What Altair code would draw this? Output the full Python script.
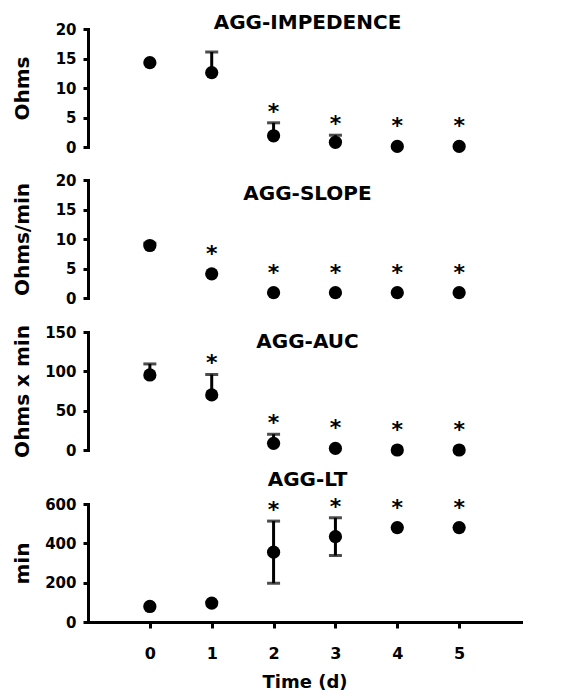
import altair as alt
import pandas as pd

time = [0, 1, 2, 3, 4, 5]

imp_mean = [14.3, 12.6, 1.9, 0.8, 0.1, 0.1]
imp_err = [0.0, 3.5, 2.2, 1.2, 0.0, 0.0]
imp_sig = [False, False, True, True, True, True]

slope_mean = [8.9, 4.1, 0.9, 0.9, 0.9, 0.9]
slope_err = [0.4, 0.0, 0.0, 0.0, 0.0, 0.0]
slope_sig = [False, True, True, True, True, True]

auc_mean = [95.4, 70.0, 8.5, 2.0, 0.0, 0.0]
auc_err = [14.0, 26.0, 11.5, 0.0, 0.0, 0.0]
auc_sig = [False, True, True, True, True, True]

lt_mean = [79, 96, 355, 434, 480, 480]
lt_err = [0, 0, 158, 96, 0, 0]
lt_sig = [False, False, True, True, True, True]

FONT = "DejaVu Sans"
W, H = 433, 118


def panel(title, ytitle, mean, err, sig, ydom, yticks, two_sided, toff, show_x):
    df = pd.DataFrame({"t": time, "mean": mean, "err": err, "sig": sig})
    df["hi"] = df["mean"] + df["err"]
    df["lo"] = df["mean"] - df["err"] if two_sided else df["mean"]

    xscale = alt.Scale(domain=[-1, 6], nice=False, zero=False)
    yscale = alt.Scale(domain=ydom, nice=False)
    if show_x:
        xaxis = alt.Axis(values=time, title="Time (d)", format="d", tickSize=6,
                         labelFontSize=16, labelPadding=17, titleFontSize=18,
                         titlePadding=12)
    else:
        xaxis = None
    yaxis = alt.Axis(values=yticks, title=ytitle, titleX=-66, titleY=H / 2,
                     titleBaseline="middle", tickSize=5, labelPadding=7,
                     labelOverlap=False, labelFlush=False)

    def Y(field):
        return alt.Y(field, scale=yscale, axis=yaxis)

    base = alt.Chart(df).encode(
        x=alt.X("t:Q", scale=xscale, axis=xaxis),
    )
    witherr = base.transform_filter("datum.err > 0")
    rule = witherr.mark_rule(color="black", strokeWidth=3).encode(
        y=Y("lo:Q"), y2="hi:Q")
    cap_hi = witherr.mark_tick(color="black", thickness=3, size=13,
                               orient="horizontal").encode(y=Y("hi:Q"))
    layers = [rule, cap_hi]
    if two_sided:
        layers.append(witherr.mark_tick(color="black", thickness=3, size=13,
                                        orient="horizontal").encode(y=Y("lo:Q")))
    pts = base.mark_point(filled=True, shape="circle", size=175, opacity=1,
                          color="black").encode(y=Y("mean:Q"))
    layers.append(pts)
    star_err = base.transform_filter("datum.sig && datum.err > 0").mark_text(
        text="*", font=FONT, fontSize=22, fontWeight="bold", color="black",
        baseline="middle", dy=-11).encode(y=Y("hi:Q"))
    star_pt = base.transform_filter("datum.sig && datum.err <= 0").mark_text(
        text="*", font=FONT, fontSize=22, fontWeight="bold", color="black",
        baseline="middle", dy=-20).encode(y=Y("mean:Q"))
    layers += [star_err, star_pt]
    return alt.layer(*layers).properties(
        width=W, height=H,
        title=alt.TitleParams(title, font=FONT, fontSize=20, fontWeight="bold",
                              color="black", anchor="middle", frame="group",
                              offset=toff, dx=3),
    )


p1 = panel("AGG-IMPEDENCE", "Ohms", imp_mean, imp_err, imp_sig, [0, 20],
           [0, 5, 10, 15, 20], False, -11, False)
p2 = panel("AGG-SLOPE", "Ohms/min", slope_mean, slope_err, slope_sig, [0, 20],
           [0, 5, 10, 15, 20], False, -31, False)
p3 = panel("AGG-AUC", "Ohms x min", auc_mean, auc_err, auc_sig, [0, 150],
           [0, 50, 100, 150], False, -27, False)
p4 = panel("AGG-LT", "min", lt_mean, lt_err, lt_sig, [0, 600],
           [0, 200, 400, 600], True, 6, True)

top = alt.vconcat(p1, p2, p3, spacing=18)
chart = alt.vconcat(top, p4, spacing=11).properties(
    padding={"left": 4, "top": 5, "right": 5, "bottom": 5}
).configure_view(stroke=None).configure_axis(
    grid=False, domainColor="black", domainWidth=3, tickColor="black",
    tickWidth=3, labelFont=FONT, labelFontWeight="bold", labelFontSize=15,
    labelColor="black", titleFont=FONT, titleFontWeight="bold",
    titleFontSize=20, titleColor="black", domainCap="square",
)

chart.save("out.html", embed_options={"renderer": "svg", "actions": False})
